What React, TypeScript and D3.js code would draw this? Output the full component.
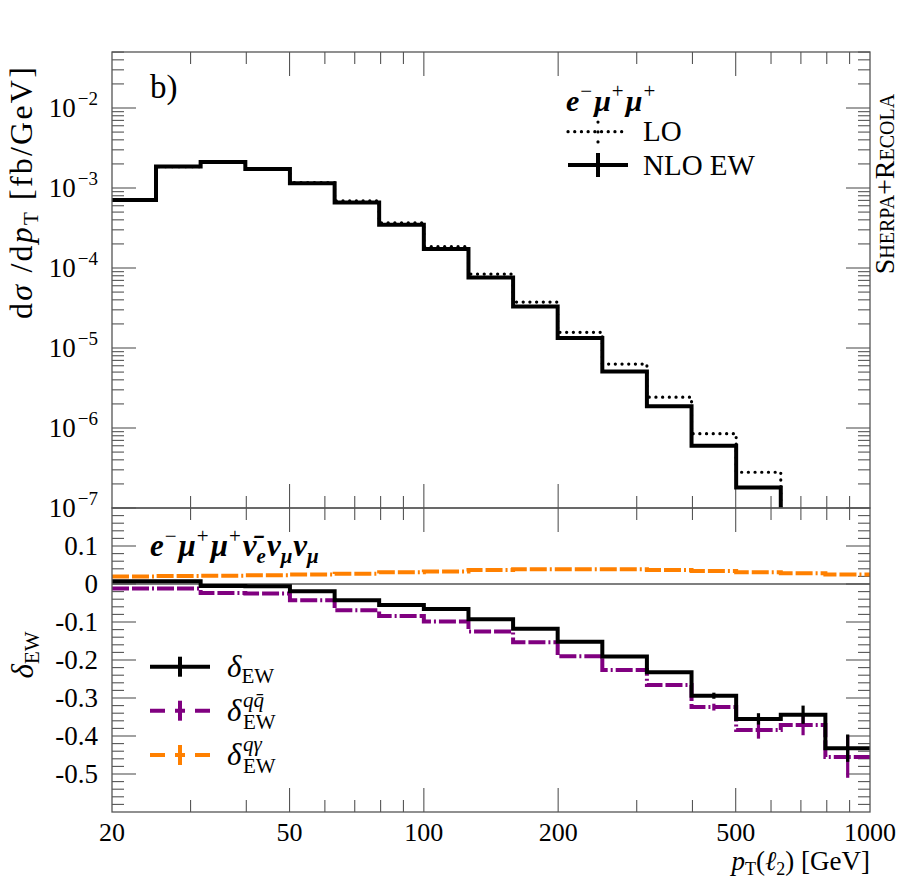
import { useEffect, useRef } from 'react';
import * as d3 from 'd3';

// bin edges in pT(l2) [GeV], 10 bins per decade
const BIN_EDGES = [20, 25.1, 31.6, 39.8, 50.1, 63.1, 79.4, 100, 125.9, 158.5, 199.5, 251.2, 316.2, 398.1, 501.2, 631, 794.3, 1000];

// upper panel, dsigma/dpT [fb/GeV] (null = below range)
const LO = [7.05e-4, 1.85e-3, 2.12e-3, 1.74e-3, 1.17e-3, 6.9e-4, 3.68e-4, 1.85e-4, 8.4e-5, 3.75e-5, 1.57e-5, 6.3e-6, 2.43e-6, 8.5e-7, 2.8e-7, null, null];
const NLO_EW = [7.1e-4, 1.86e-3, 2.11e-3, 1.73e-3, 1.15e-3, 6.6e-4, 3.48e-4, 1.73e-4, 7.6e-5, 3.3e-5, 1.33e-5, 5.1e-6, 1.87e-6, 6.0e-7, 1.8e-7, null, null];

// lower panel, relative corrections
const DELTA_EW = [0.007, 0.007, -0.005, -0.006, -0.019, -0.043, -0.055, -0.066, -0.093, -0.118, -0.152, -0.191, -0.232, -0.294, -0.355, -0.344, -0.432];
const DELTA_EW_ERR = [0, 0, 0, 0, 0, 0, 0, 0, 0, 0, 0, 0, 0.003, 0.008, 0.015, 0.024, 0.036];
const DELTA_QQ = [-0.012, -0.012, -0.024, -0.025, -0.043, -0.069, -0.084, -0.099, -0.125, -0.153, -0.19, -0.226, -0.266, -0.324, -0.384, -0.371, -0.455];
const DELTA_QQ_ERR = [0, 0, 0, 0, 0, 0, 0, 0, 0, 0, 0, 0, 0.003, 0.009, 0.023, 0.027, 0.055];
const DELTA_QA = [0.02, 0.021, 0.022, 0.023, 0.025, 0.027, 0.031, 0.033, 0.037, 0.039, 0.039, 0.039, 0.037, 0.034, 0.031, 0.028, 0.025];

const X_LABELS = [20, 50, 100, 200, 500, 1000];
const X_MAJOR = [50, 100, 200, 500];
const X_MINOR = [30, 40, 60, 70, 80, 90, 300, 400, 600, 700, 800, 900];
const Y_DECADES = [-7, -6, -5, -4, -3, -2];
const R_LABELS = [0.1, 0, -0.1, -0.2, -0.3, -0.4, -0.5];

const FONT = '"Liberation Serif", "DejaVu Serif", serif';
const PURPLE = '#800080';
const ORANGE = '#ff8000';
const FRAME = '#555';

const L = 112, R = 870, T = 52, MID = 508, B = 812;

const Chart = () => {
  const ref = useRef<SVGSVGElement>(null);

  useEffect(() => {
    if (!ref.current) return;
    const svg = d3.select(ref.current);
    svg.selectAll('*').remove();

    const x = d3.scaleLog().domain([20, 1000]).range([L, R]);
    const yTop = d3.scaleLog().domain([1e-7, Math.pow(10, -1.3)]).range([MID, T]);
    const yLow = d3.scaleLinear().domain([-0.6, 0.2]).range([B, MID]);

    const defs = svg.append('defs');
    defs.append('clipPath').attr('id', 'clipTop').append('rect').attr('x', L).attr('y', T).attr('width', R - L).attr('height', MID - T);
    defs.append('clipPath').attr('id', 'clipLow').append('rect').attr('x', L).attr('y', MID).attr('width', R - L).attr('height', B - MID);

    const stepPath = (vals: (number | null)[], y: (v: number) => number, floor: number) => {
      let d = '';
      vals.forEach((v, i) => {
        const x0 = x(BIN_EDGES[i]);
        const x1 = x(BIN_EDGES[i + 1]);
        const yy = v == null ? floor : y(v);
        d += i === 0 ? `M${x0},${yy}` : `V${yy}`;
        d += `H${x1}`;
      });
      return d;
    };

    // ---- ticks
    const tick = (x1: number, y1: number, x2: number, y2: number) =>
      svg.append('line').attr('x1', x1).attr('y1', y1).attr('x2', x2).attr('y2', y2).attr('stroke', FRAME).attr('stroke-width', 1.1);

    [[T, 1], [MID, -1], [MID, 1], [B, -1]].forEach(([yy, dir]) => {
      X_MAJOR.forEach((v) => tick(x(v), yy, x(v), yy + dir * 24));
      X_MINOR.forEach((v) => tick(x(v), yy, x(v), yy + dir * 12));
    });

    [[L, 1], [R, -1]].forEach(([xx, dir]) => {
      Y_DECADES.forEach((e) => {
        const base = Math.pow(10, e);
        tick(xx, yTop(base), xx + dir * 24, yTop(base));
        for (let k = 2; k <= 9; k++) {
          const v = k * base;
          if (v <= Math.pow(10, -1.3)) tick(xx, yTop(v), xx + dir * 12, yTop(v));
        }
      });
      d3.range(-30, 11).forEach((i) => {
        const v = i * 0.02;
        if (v <= -0.6 || v >= 0.2) return;
        const major = i % 5 === 0;
        tick(xx, yLow(v), xx + dir * (major ? 24 : 12), yLow(v));
      });
    });

    // ---- zero line
    svg.append('line').attr('x1', L).attr('x2', R).attr('y1', yLow(0)).attr('y2', yLow(0)).attr('stroke', FRAME).attr('stroke-width', 1.3);

    // ---- upper histograms
    const gTop = svg.append('g').attr('clip-path', 'url(#clipTop)');
    gTop.append('path').attr('d', stepPath(LO, yTop, MID + 20)).attr('fill', 'none').attr('stroke', '#000')
      .attr('stroke-width', 3.2).attr('stroke-linecap', 'round').attr('stroke-dasharray', '0.1,6.6');
    gTop.append('path').attr('d', stepPath(NLO_EW, yTop, MID + 20)).attr('fill', 'none').attr('stroke', '#000')
      .attr('stroke-width', 4);

    // ---- lower histograms
    const gLow = svg.append('g').attr('clip-path', 'url(#clipLow)');
    const errBars = (vals: number[], errs: number[], color: string) => {
      vals.forEach((v, i) => {
        if (!errs[i]) return;
        const xc = x(Math.sqrt(BIN_EDGES[i] * BIN_EDGES[i + 1]));
        gLow.append('line').attr('x1', xc).attr('x2', xc).attr('y1', yLow(v - errs[i])).attr('y2', yLow(v + errs[i]))
          .attr('stroke', color).attr('stroke-width', 3.2);
      });
    };
    gLow.append('path').attr('d', stepPath(DELTA_QA, yLow, B + 20)).attr('fill', 'none').attr('stroke', ORANGE)
      .attr('stroke-width', 4).attr('stroke-dasharray', '17,3,17,3,2,3');
    gLow.append('path').attr('d', stepPath(DELTA_QQ, yLow, B + 20)).attr('fill', 'none').attr('stroke', PURPLE)
      .attr('stroke-width', 4).attr('stroke-dasharray', '17,3,17,3,2,3');
    errBars(DELTA_QQ, DELTA_QQ_ERR, PURPLE);
    gLow.append('path').attr('d', stepPath(DELTA_EW, yLow, B + 20)).attr('fill', 'none').attr('stroke', '#000')
      .attr('stroke-width', 4);
    errBars(DELTA_EW, DELTA_EW_ERR, '#000');

    // ---- frames
    svg.append('rect').attr('x', L).attr('y', T).attr('width', R - L).attr('height', MID - T)
      .attr('fill', 'none').attr('stroke', FRAME).attr('stroke-width', 1.3);
    svg.append('rect').attr('x', L).attr('y', MID).attr('width', R - L).attr('height', B - MID)
      .attr('fill', 'none').attr('stroke', FRAME).attr('stroke-width', 1.3);

    const text = (xx: number, yy: number, size: number, anchor = 'start') =>
      svg.append('text').attr('x', xx).attr('y', yy).attr('font-size', size).attr('font-family', FONT)
        .attr('text-anchor', anchor).attr('fill', '#000');

    // ---- tick labels
    Y_DECADES.forEach((e) => {
      const t = text(98, yTop(Math.pow(10, e)) + 9, 27, 'end');
      t.append('tspan').text('10');
      t.append('tspan').attr('dx', 2).attr('dy', -12).attr('font-size', 19).text(`\u2212${-e}`);
    });
    R_LABELS.forEach((v) => {
      text(98, yLow(v) + 9, 27, 'end').text(v === 0 ? '0' : `${v}`);
    });
    X_LABELS.forEach((v) => {
      text(x(v), 841, 26, 'middle').text(`${v}`);
    });

    // ---- axis titles
    const yl = svg.append('text').attr('transform', 'translate(32,192) rotate(-90)').attr('text-anchor', 'middle')
      .attr('font-size', 32).attr('letter-spacing', 2.2).attr('font-family', FONT);
    yl.append('tspan').text('d');
    yl.append('tspan').attr('font-style', 'italic').text('σ');
    yl.append('tspan').text(' /d');
    yl.append('tspan').attr('font-style', 'italic').text('p');
    yl.append('tspan').attr('font-size', 21).attr('dy', 6).text('T');
    yl.append('tspan').attr('dy', -6).text(' [fb/GeV]');

    const dl = svg.append('text').attr('transform', 'translate(33,655) rotate(-90)').attr('text-anchor', 'middle')
      .attr('font-size', 31).attr('font-family', FONT);
    dl.append('tspan').attr('font-style', 'italic').text('δ');
    dl.append('tspan').attr('font-size', 21).attr('dy', 6).text('EW');

    const xl = text(870, 870, 27, 'end');
    xl.append('tspan').attr('font-style', 'italic').text('p');
    xl.append('tspan').attr('font-size', 18).attr('dy', 5).text('T');
    xl.append('tspan').attr('dy', -5).text('(');
    xl.append('tspan').attr('font-style', 'italic').text('ℓ');
    xl.append('tspan').attr('font-size', 18).attr('dy', 5).text('2');
    xl.append('tspan').attr('dy', -5).text(') [GeV]');

    text(150, 98, 33).text('b)');

    // Sherpa+Recola
    svg.append('text').attr('transform', 'translate(894,184) rotate(-90)').attr('text-anchor', 'middle')
      .attr('font-size', 28).attr('font-family', FONT).attr('font-variant', 'small-caps').text('Sherpa+Recola');

    // ---- upper legend
    const t1 = text(566, 111, 30).attr('font-style', 'italic').attr('font-weight', 'bold');
    [['e', '\u2212'], ['μ', '+'], ['μ', '+']].forEach(([a, s], i) => {
      t1.append('tspan').attr('dx', i === 0 ? 0 : 2).attr('dy', i === 0 ? 0 : 13).text(a);
      t1.append('tspan').attr('dx', 1).attr('dy', -13).attr('font-size', 21).attr('font-style', 'normal').attr('font-weight', 'normal').text(s);
    });
    svg.append('line').attr('x1', 568).attr('x2', 628).attr('y1', 131.7).attr('y2', 131.7).attr('stroke', '#000')
      .attr('stroke-width', 3.2).attr('stroke-linecap', 'round').attr('stroke-dasharray', '0.1,6.6');
    svg.append('line').attr('x1', 598).attr('x2', 598).attr('y1', 122).attr('y2', 142).attr('stroke', '#000')
      .attr('stroke-width', 3.2).attr('stroke-linecap', 'round').attr('stroke-dasharray', '0.1,9.8');
    text(643, 141, 29).text('LO');
    svg.append('line').attr('x1', 568).attr('x2', 628).attr('y1', 165).attr('y2', 165).attr('stroke', '#000').attr('stroke-width', 4);
    svg.append('line').attr('x1', 598).attr('x2', 598).attr('y1', 153).attr('y2', 177).attr('stroke', '#000').attr('stroke-width', 4);
    text(643, 175, 29).text('NLO EW');

    // ---- lower legend
    const t2 = text(150, 556, 31).attr('font-style', 'italic').attr('font-weight', 'bold');
    const sup = (s: string) => t2.append('tspan').attr('dx', 1).attr('dy', -13).attr('font-size', 21).attr('font-style', 'normal').attr('font-weight', 'normal').text(s);
    const sub = (s: string) => t2.append('tspan').attr('dy', 7).attr('font-size', 21).text(s);
    t2.append('tspan').text('e'); sup('\u2212');
    t2.append('tspan').attr('dx', 2).attr('dy', 13).text('μ'); sup('+');
    t2.append('tspan').attr('dx', 2).attr('dy', 13).text('μ'); sup('+');
    t2.append('tspan').attr('dx', 2).attr('dy', 13).text('ν\u0304');
    sub('e');
    t2.append('tspan').attr('dx', 1).attr('dy', -7).text('ν'); sub('μ');
    t2.append('tspan').attr('dx', 1).attr('dy', -7).text('ν'); sub('μ');

    const legendRows = [
      { y: 666.7, color: '#000', dash: null, sup: '' },
      { y: 710.7, color: PURPLE, dash: '15,10,10,10,15', sup: 'qq\u0304' },
      { y: 755, color: ORANGE, dash: '15,10,10,10,15', sup: 'qγ' },
    ];
    legendRows.forEach((row) => {
      const ln = svg.append('line').attr('x1', 150).attr('x2', 210).attr('y1', row.y).attr('y2', row.y)
        .attr('stroke', row.color).attr('stroke-width', 4);
      if (row.dash) ln.attr('stroke-dasharray', row.dash);
      svg.append('line').attr('x1', 180).attr('x2', 180).attr('y1', row.y - 10).attr('y2', row.y + 10)
        .attr('stroke', row.color).attr('stroke-width', 4);
      const t = text(227, row.y + 10, 31);
      t.append('tspan').attr('font-style', 'italic').text('δ');
      if (row.sup) {
        t.append('tspan').attr('x', 243).attr('dy', -14).attr('font-size', 21).attr('font-style', 'italic').text(row.sup);
        t.append('tspan').attr('x', 243).attr('dy', 22).attr('font-size', 21).text('EW');
      } else {
        t.append('tspan').attr('dy', 6).attr('font-size', 21).text('EW');
      }
    });
  }, []);

  return <svg ref={ref} width={899} height={887} style={{ position: 'absolute', left: 0, top: 0, background: '#fff' }} />;
};

export default function App() {
  return <Chart />;
}
